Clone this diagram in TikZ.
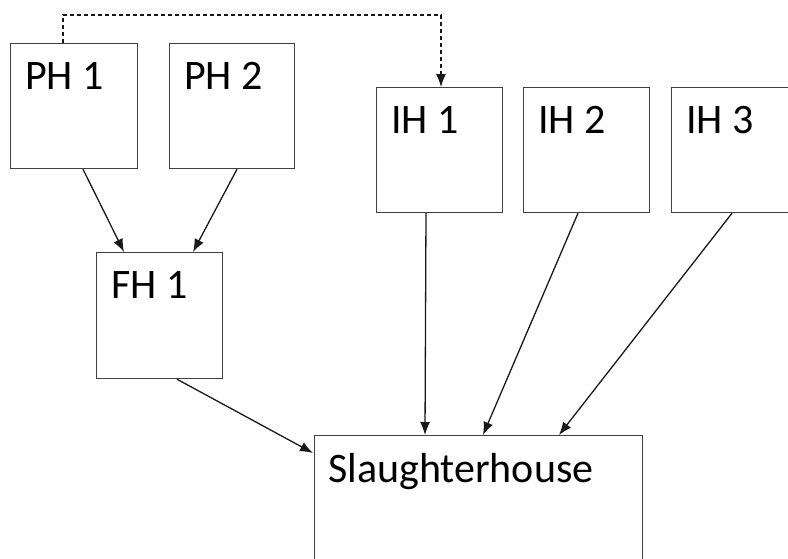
\documentclass[tikz,border=0pt]{standalone}
\usepackage{fontspec}
\setmainfont{Carlito}
\usetikzlibrary{arrows.meta,calc}
\begin{document}
\begin{tikzpicture}[x=1pt,y=-1pt,
  box/.style={draw=black!75,line width=1.2pt,fill=white,minimum width=126pt,minimum height=125pt,inner sep=0pt,anchor=north west},
  lbl/.style={anchor=base west,inner sep=0pt,font=\fontsize{42}{50}\selectfont},
  arr/.style={draw=black!90,line width=1.3pt,-{Latex[length=13pt,width=10pt]}},
  dasharr/.style={arr,line width=1.1pt,dash pattern=on 4pt off 3pt}]
\useasboundingbox (0,0) rectangle (788,558);
\clip (0,0) rectangle (788,558);
\node[box,minimum width=127pt] (ph1) at (10,43) {};
\node[box,minimum width=125pt] (ph2) at (169,43) {};
\node[box] (ih1) at (376,87) {};
\node[box] (ih2) at (523,87) {};
\node[box] (ih3) at (671,87) {};
\node[box,minimum height=126pt] (fh1) at (96,252) {};
\node[box,minimum width=328pt,minimum height=130pt] (sh) at (314,435) {};
\node[lbl] at ($(ph1.north west)+(15,46)$) {PH 1};
\node[lbl] at ($(ph2.north west)+(15,46)$) {PH 2};
\node[lbl] at ($(ih1.north west)+(15,46)$) {IH 1};
\node[lbl] at ($(ih2.north west)+(15,46)$) {IH 2};
\node[lbl] at ($(ih3.north west)+(15,46)$) {IH 3};
\node[lbl] at ($(fh1.north west)+(15,46)$) {FH 1};
\node[lbl] at ($(sh.north west)+(14,47)$) {Slaughterhouse};
\coordinate (d1) at ($(ph1.north west)+(53,-28)$);
\coordinate (d2) at ($(ih1.north west)+(65,-72)$);
\draw[dasharr] ($(ph1.north west)+(53,0)$) -- (d1) -- (d2) -- ($(ih1.north west)+(65,0)$);
\draw[arr] ($(ph1.south west)+(73,0)$) -- ($(fh1.north west)+(28,0)$);
\draw[arr] ($(ph2.south west)+(68,0)$) -- ($(fh1.north west)+(97,0)$);
\draw[arr] ($(fh1.south west)+(81,0)$) -- ($(sh.north west)+(-1,18)$);
\draw[arr] ($(ih1.south west)+(50,0)$) -- ($(sh.north west)+(111,0)$);
\draw[arr] ($(ih2.south west)+(55,0)$) -- ($(sh.north west)+(169,0)$);
\draw[arr] ($(ih3.south west)+(61,0)$) -- ($(sh.north west)+(245,0)$);
\end{tikzpicture}
\end{document}
